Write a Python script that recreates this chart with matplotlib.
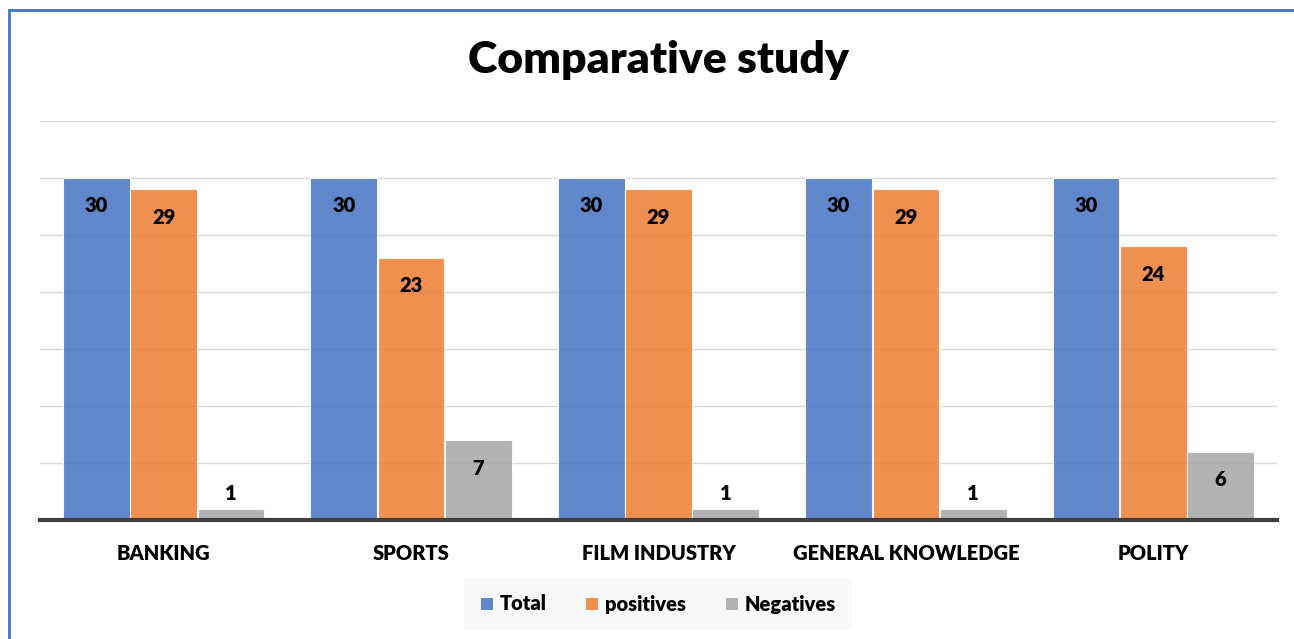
import numpy as np
import matplotlib.pyplot as plt
from matplotlib.patches import Rectangle

plt.rcParams['font.family'] = ['Lato', 'DejaVu Sans']

categories = ['BANKING', 'SPORTS', 'FILM INDUSTRY', 'GENERAL KNOWLEDGE', 'POLITY']
total = [30, 30, 30, 30, 30]
positives = [29, 23, 29, 29, 24]
negatives = [1, 7, 1, 1, 6]

series = [('Total', total, '#4472C4'),
          ('positives', positives, '#ED7D31'),
          ('Negatives', negatives, '#A5A5A5')]

fig = plt.figure(figsize=(12.94, 6.39), dpi=100)
ax = fig.add_axes([40/1294, 1 - 520/639, 1237/1294, 399/639])

# blue border at top/left of the chart area
fig.patches.append(Rectangle((9/1294, -0.1), 1.2, 1 - 10/639 + 0.1, transform=fig.transFigure,
                             fill=False, edgecolor='#4472C4', linewidth=2))

x = np.arange(len(categories))
w = 0.27
offsets = [-0.272, 0, 0.272]

for (name, vals, col), off in zip(series, offsets):
    bars = ax.bar(x + off, vals, w, color=col, alpha=0.85, edgecolor='white', linewidth=0.8,
                  label=name, zorder=2)
    for b, v in zip(bars, vals):
        if v < 3:
            ax.annotate(str(v), (b.get_x() + b.get_width()/2, v), xytext=(0, 6),
                        textcoords='offset pixels', ha='center', va='bottom',
                        fontsize=14.5, fontweight='heavy')
        else:
            ax.annotate(str(v), (b.get_x() + b.get_width()/2, v), xytext=(0, -28),
                        textcoords='offset pixels', ha='center', va='center',
                        fontsize=14.5, fontweight='heavy')

ax.set_xlim(-0.5, 4.5)
ax.set_ylim(0, 35)
ax.set_yticks(np.arange(5, 36, 5))
ax.yaxis.grid(True, color='#d9d9d9', linewidth=1, zorder=1)
ax.tick_params(axis='y', left=False, labelleft=False)
ax.tick_params(axis='x', bottom=False, pad=14)
ax.set_xticks(x)
ax.set_xticklabels(categories, fontsize=14.5, fontweight='heavy')
for s in ['left', 'right', 'top']:
    ax.spines[s].set_visible(False)
ax.spines['bottom'].set_color('#404040')
ax.spines['bottom'].set_linewidth(3)
ax.spines['bottom'].set_zorder(3)

fig.text(658/1294, 1 - 60/639, 'Comparative study', ha='center', va='center',
         fontsize=32, fontweight='heavy')

leg = fig.legend(loc='center', bbox_to_anchor=(658/1294, 1 - 604/639), ncol=3,
                 frameon=True, prop={'weight': 'heavy', 'size': 14.5},
                 handlelength=0.65, handleheight=0.65, handletextpad=0.35, columnspacing=1.9,
                 borderpad=0.8)
leg.get_frame().set_facecolor('#f7f7f7')
leg.get_frame().set_edgecolor('none')
leg.get_frame().set_boxstyle('square', pad=0)

fig.savefig('out.png', dpi=100)
